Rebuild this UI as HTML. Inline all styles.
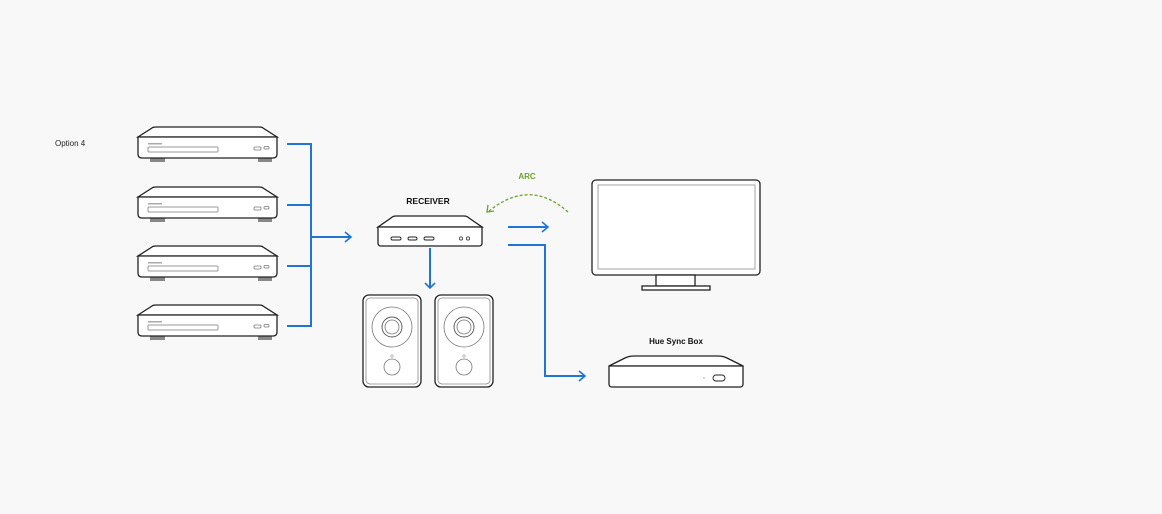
<!DOCTYPE html>
<html><head><meta charset="utf-8"><style>
html,body{margin:0;padding:0;background:#f8f8f8;}
svg{display:block;}
text{font-family:"Liberation Sans",sans-serif;}
</style></head><body>
<svg width="1162" height="514" viewBox="0 0 1162 514" xmlns="http://www.w3.org/2000/svg">
<rect width="1162" height="514" fill="#f8f8f8"/>
<text x="55" y="146" font-size="8" fill="#222">Option 4</text>
<defs>
<g id="player" fill="#fff" stroke="#222" stroke-width="1.3">
  <rect x="150" y="31" width="15" height="4" fill="#888" stroke="none"/>
  <rect x="258" y="31" width="14" height="4" fill="#888" stroke="none"/>
  <path d="M138,10 L152,1 Q153,0 156,0 L259,0 Q262,0 263,1 L277,10 Z"/>
  <path d="M138,10 L277,10 L277,27 Q277,31 273,31 L142,31 Q138,31 138,27 Z"/>
  <rect x="148" y="20" width="70" height="5" rx="1" stroke="#999" stroke-width="1"/>
  <rect x="148" y="16" width="14" height="1.5" fill="#aaa" stroke="none"/>
  <rect x="254" y="20" width="7" height="3" rx="1" stroke="#777" stroke-width="0.8"/>
  <rect x="264" y="19.5" width="5" height="2.5" rx="1" stroke="#777" stroke-width="0.8"/>
</g>
<g id="spk" fill="#fff" stroke="#222">
  <rect x="0" y="0" width="58" height="92" rx="6" stroke-width="1.3"/>
  <rect x="3" y="3" width="52" height="86" rx="4" stroke="#888" stroke-width="0.8"/>
  <circle cx="29" cy="32" r="20" stroke="#777" stroke-width="0.8"/>
  <circle cx="29" cy="32" r="10" stroke="#555" stroke-width="0.9"/>
  <circle cx="29" cy="32" r="7" stroke="#777" stroke-width="0.8"/>
  <circle cx="29" cy="61" r="1.2" stroke="#999" stroke-width="0.6"/>
  <circle cx="29" cy="72" r="8" stroke="#777" stroke-width="0.8"/>
</g>
</defs>
<use href="#player" y="127"/>
<use href="#player" y="187"/>
<use href="#player" y="246"/>
<use href="#player" y="305"/>

<g fill="none" stroke="#1f74d6" stroke-width="2">
  <path d="M287,144 H311 M287,205 H311 M287,266 H311 M287,326 H311 M311,143 V327 M311,237 H351"/>
  <path d="M345,232 L351,237 L345,242" stroke-width="1.6"/>
  <path d="M430,248 V288"/>
  <path d="M425,283 L430,288 L435,283" stroke-width="1.6"/>
  <path d="M508,227 H548"/>
  <path d="M542,222 L548,227 L542,232" stroke-width="1.6"/>
  <path d="M508,245 H545 V376 H585"/>
  <path d="M579,371 L585,376 L579,381" stroke-width="1.6"/>
</g>

<text x="428" y="204" font-size="8.5" font-weight="bold" text-anchor="middle" fill="#111">RECEIVER</text>
<g fill="#fff" stroke="#222" stroke-width="1.3">
  <path d="M378,227 L391,218 Q393,216 396,216 L464,216 Q467,216 469,218 L482,227 Z"/>
  <path d="M378,227 H482 V243 Q482,246 479,246 H381 Q378,246 378,243 Z"/>
  <rect x="391" y="237" width="10" height="3" rx="1.5" stroke-width="0.9"/>
  <rect x="408" y="237" width="9" height="3" rx="1.5" stroke-width="0.9"/>
  <rect x="424" y="237" width="10" height="3" rx="1.5" stroke-width="0.9"/>
  <circle cx="461" cy="238.5" r="1.6" stroke-width="0.7"/>
  <circle cx="468" cy="238.5" r="1.6" stroke-width="0.7"/>
</g>
<use href="#spk" x="363" y="295"/>
<use href="#spk" x="435" y="295"/>

<text x="527" y="179" font-size="8" font-weight="bold" text-anchor="middle" fill="#6aa32a">ARC</text>
<path d="M568,212 Q530,178 489,211" fill="none" stroke="#6aa32a" stroke-width="1.3" stroke-dasharray="3,2"/>
<path d="M488,205 L487,212 L494,211" fill="none" stroke="#6aa32a" stroke-width="1.3"/>

<g fill="#fff" stroke="#222" stroke-width="1.3">
  <rect x="592" y="180" width="168" height="95" rx="4"/>
  <rect x="598" y="185" width="157" height="84" fill="#fff" stroke="#999" stroke-width="0.9"/>
  <rect x="656" y="275" width="39" height="11"/>
  <rect x="642" y="286" width="68" height="4"/>
</g>

<text x="676" y="344" font-size="8" font-weight="bold" text-anchor="middle" fill="#111">Hue Sync Box</text>
<g fill="#fff" stroke="#222" stroke-width="1.3">
  <path d="M609,366 L625,358 Q629,356 634,356 L718,356 Q723,356 727,358 L743,366 Z"/>
  <path d="M609,366 H743 V384 Q743,387 740,387 H612 Q609,387 609,384 Z"/>
  <rect x="713" y="375" width="12" height="6" rx="3" stroke-width="0.9"/>
  <circle cx="704" cy="378" r="0.8" fill="#aaa" stroke="none"/>
</g>
</svg>
</body></html>
